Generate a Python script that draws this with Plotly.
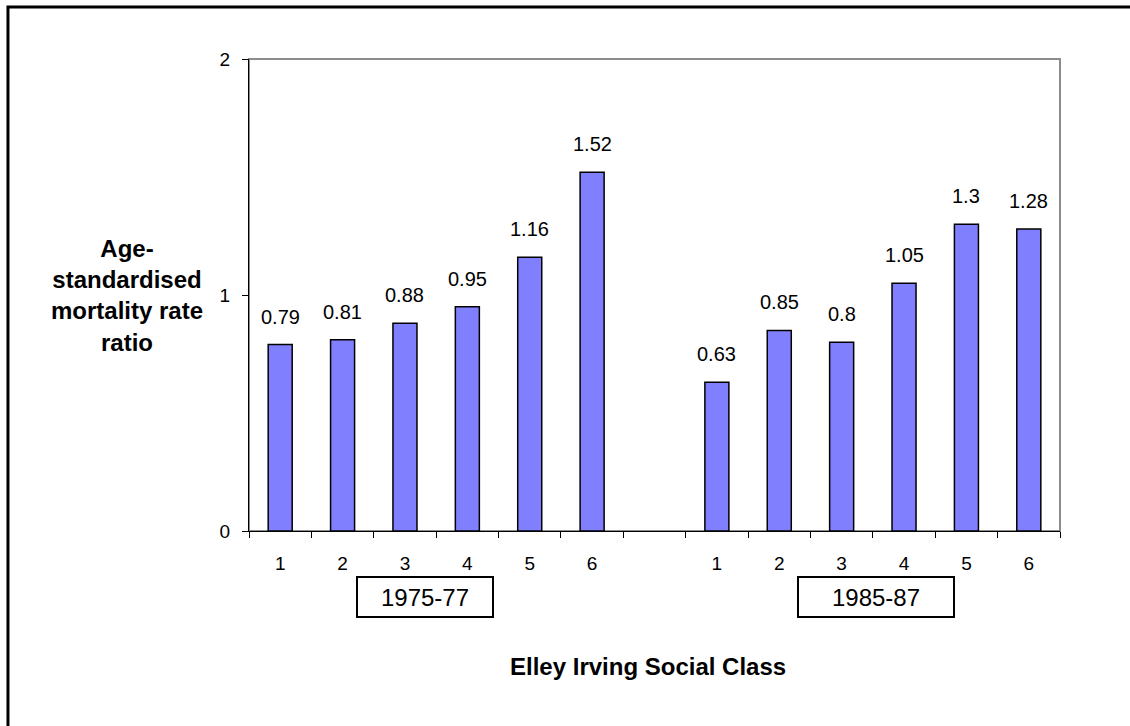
import plotly.graph_objects as go

# ---- data ----
periods = ["1975-77", "1985-87"]
classes = ["1", "2", "3", "4", "5", "6"]
rates_1975 = [0.79, 0.81, 0.88, 0.95, 1.16, 1.52]
rates_1985 = [0.63, 0.85, 0.80, 1.05, 1.30, 1.28]
y_ticks = [0, 1, 2]

FONT = "Arial, Liberation Sans, Helvetica, sans-serif"

# category slots: group 1, one empty slot, group 2
n = len(classes)
x1 = list(range(n))
x2 = [n + 1 + i for i in range(n)]
xs = x1 + x2
vals = rates_1975 + rates_1985
labels = [f"{v:g}" for v in vals]
xmin, xmax = -0.5, 2 * n + 0.5
bounds = [xmin + k for k in range(2 * n + 2)]

fig = go.Figure()
fig.add_trace(go.Bar(
    x=xs, y=vals, width=0.385,
    marker=dict(color="#8080FF", line=dict(color="black", width=1.5)),
    hoverinfo="skip", showlegend=False,
))

annotations = []
for x, v, t in zip(xs, vals, labels):
    annotations.append(dict(x=x, y=v, xref="x", yref="y", text=t, showarrow=False,
                            yanchor="bottom", yshift=15,
                            font=dict(family=FONT, size=20, color="black")))

# period boxes
period_x = [2.32, 9.55]
period_w = [134, 154]
for px, pw, p in zip(period_x, period_w, periods):
    annotations.append(dict(x=px, y=-0.1398, xref="x", yref="paper", text=p, showarrow=False,
                            xanchor="center", yanchor="middle", width=pw, height=38,
                            bordercolor="black", borderwidth=2, borderpad=0, bgcolor="white",
                            font=dict(family=FONT, size=24, color="black")))

# axis titles
annotations.append(dict(x=-0.150, y=1, xref="paper", yref="y",
                        text="<b>Age-<br>standardised<br>mortality rate<br>ratio</b>",
                        showarrow=False, xanchor="center", yanchor="middle", align="center",
                        font=dict(family=FONT, size=24, color="black")))
annotations.append(dict(x=0.492, y=-0.288, xref="paper", yref="paper",
                        text="<b>Elley Irving Social Class</b>", showarrow=False,
                        xanchor="center", yanchor="middle",
                        font=dict(family=FONT, size=24, color="black")))

shapes = [
    # plot area frame (grey)
    dict(type="rect", xref="x domain", yref="y domain", x0=0, x1=1, y0=0, y1=1,
         line=dict(color="#8c8c8c", width=2), layer="below"),
    # outer chart border
    dict(type="rect", xref="paper", yref="paper", x0=-0.2972, x1=1.2, y0=-0.6, y1=1.1102,
         line=dict(color="black", width=3), layer="below"),
]

fig.update_layout(
    width=1130, height=726,
    margin=dict(l=249, r=70, t=59, b=195, pad=0),
    paper_bgcolor="white", plot_bgcolor="white",
    font=dict(family=FONT, color="black"),
    annotations=annotations, shapes=shapes,
    showlegend=False,
    xaxis=dict(range=[xmin, xmax], tickmode="array", tickvals=xs, ticktext=classes + classes,
               ticks="", showline=True, linecolor="black", linewidth=1, showgrid=False,
               zeroline=False, tickfont=dict(size=19, family=FONT, color="black"),
               ticklabelstandoff=15,
               minor=dict(tickmode="array", tickvals=bounds, ticks="outside", ticklen=6,
                          tickcolor="black", tickwidth=1, showgrid=False)),
    xaxis2=dict(range=[xmin, xmax], overlaying="x", anchor="y", side="bottom",
                tickmode="array", tickvals=bounds, ticks="inside", ticklen=6,
                tickcolor="black", showticklabels=False, showline=False, showgrid=False,
                zeroline=False),
    yaxis=dict(range=[0, 2], tickmode="array", tickvals=y_ticks, ticks="outside", ticklen=6,
               tickcolor="black", showline=True, linecolor="black", linewidth=1,
               showgrid=False, zeroline=False, ticklabelstandoff=8,
               tickfont=dict(size=19, family=FONT, color="black")),
    yaxis2=dict(range=[0, 2], overlaying="y", anchor="x", side="left",
                tickmode="array", tickvals=y_ticks, ticks="inside", ticklen=6,
                tickcolor="black", showticklabels=False, showline=False, showgrid=False,
                zeroline=False),
)

fig.write_html("out.html", config={"displayModeBar": False},
               post_script="document.body.style.margin='0';document.body.style.overflow='hidden';")
